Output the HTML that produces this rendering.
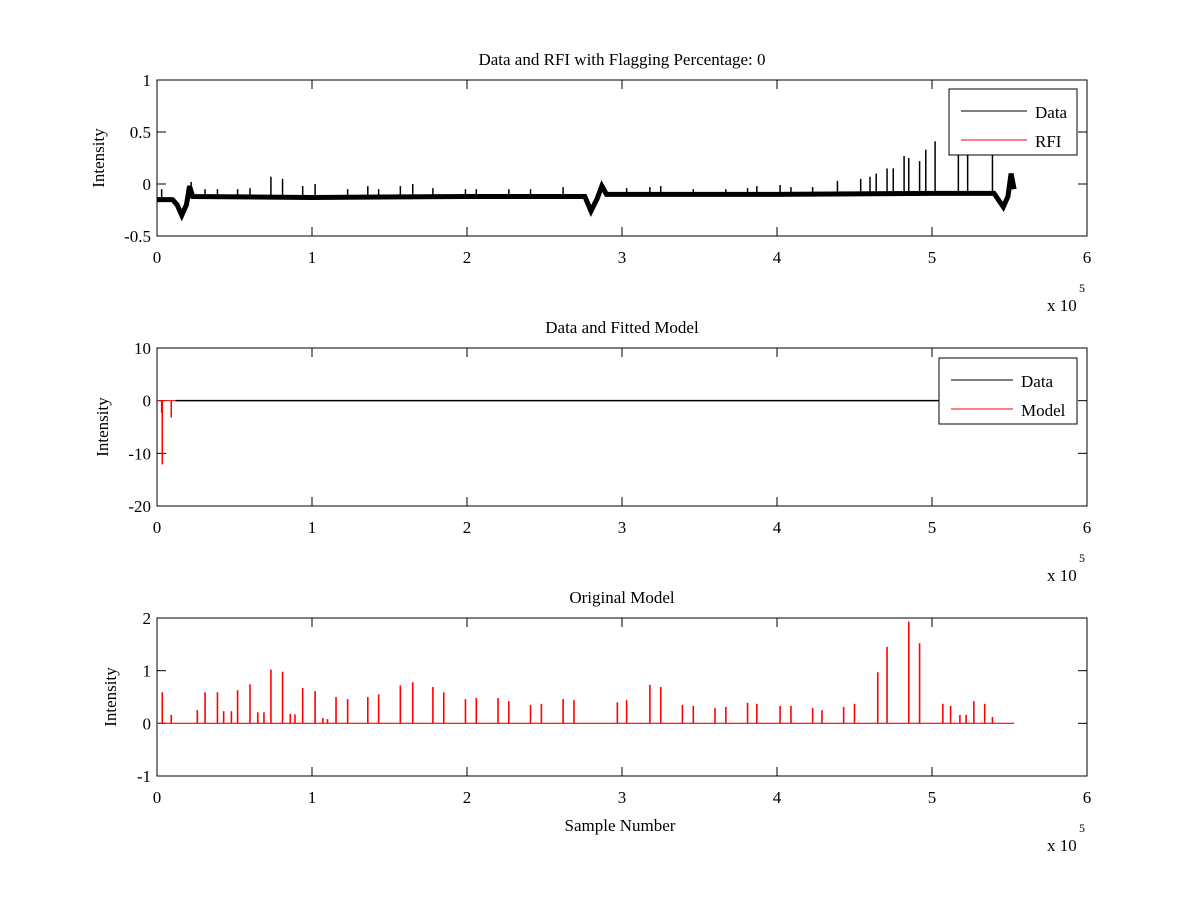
<!DOCTYPE html>
<html><head><meta charset="utf-8"><style>
body{margin:0;background:#fff;}
svg{display:block;font-family:"Liberation Serif",serif;}
</style></head><body>
<svg id="fig" width="1200" height="900" viewBox="0 0 1200 900">
<rect width="1200" height="900" fill="#fff"/>
</svg>
<script>
// ---- shared axis data ----
const xTicks = [0,1,2,3,4,5,6];
// ---- panel 1 data (x in 1e5 samples) ----
const p1BaseX = [0,0.1,0.13,0.16,0.19,0.21,0.23,1.0,2.0,2.76,2.8,2.84,2.87,2.9,4.0,5.0,5.4,5.46,5.49,5.51,5.53];
const p1BaseY = [-0.15,-0.15,-0.2,-0.3,-0.2,-0.02,-0.12,-0.13,-0.12,-0.12,-0.26,-0.14,-0.02,-0.1,-0.1,-0.09,-0.09,-0.22,-0.12,0.1,-0.05];
const p1SpikeX = [0.03,0.22,0.31,0.39,0.52,0.60,0.735,0.81,0.94,1.02,1.23,1.36,1.43,1.57,1.65,1.78,1.99,2.06,2.27,2.41,2.62,3.03,3.18,3.25,3.46,3.67,3.81,3.87,4.02,4.09,4.23,4.39,4.54,4.6,4.64,4.71,4.75,4.82,4.85,4.92,4.96,5.02,5.17,5.23,5.39];
const p1SpikeY = [-0.05,0.02,-0.05,-0.05,-0.05,-0.04,0.07,0.05,-0.02,0.0,-0.05,-0.02,-0.05,-0.02,0.0,-0.04,-0.05,-0.05,-0.05,-0.05,-0.03,-0.04,-0.03,-0.02,-0.05,-0.05,-0.04,-0.02,-0.01,-0.03,-0.03,0.03,0.05,0.07,0.1,0.15,0.15,0.27,0.25,0.22,0.33,0.41,0.6,0.6,0.6];
const p1Ticks = [-0.5,0,0.5,1];
// ---- panel 2 data ----
const p2SpikeX = [0.03,0.034,0.092];
const p2SpikeY = [-2.3,-12.1,-3.2];
const p2Ticks = [-20,-10,0,10];
// ---- panel 3 data ----
const p3SpikeX = [0.034,0.092,0.26,0.31,0.39,0.43,0.48,0.52,0.60,0.65,0.69,0.735,0.81,0.86,0.89,0.94,1.02,1.07,1.10,1.155,1.23,1.36,1.43,1.57,1.65,1.78,1.85,1.99,2.06,2.20,2.27,2.41,2.48,2.62,2.69,2.97,3.03,3.18,3.25,3.39,3.46,3.60,3.67,3.81,3.87,4.02,4.09,4.23,4.29,4.43,4.50,4.65,4.71,4.85,4.92,5.07,5.12,5.18,5.22,5.27,5.34,5.39];
const p3SpikeY = [0.59,0.16,0.25,0.59,0.59,0.23,0.23,0.63,0.74,0.21,0.21,1.02,0.98,0.18,0.17,0.67,0.61,0.10,0.08,0.50,0.46,0.50,0.55,0.72,0.78,0.69,0.59,0.46,0.48,0.48,0.42,0.35,0.37,0.46,0.44,0.40,0.44,0.73,0.69,0.35,0.33,0.29,0.31,0.39,0.37,0.33,0.33,0.29,0.25,0.31,0.37,0.97,1.45,1.93,1.52,0.37,0.33,0.16,0.16,0.42,0.37,0.12];
const p3Ticks = [-1,0,1,2];

const NS='http://www.w3.org/2000/svg';
const svg=document.getElementById('fig');
function mk(tag,attrs,parent){const e=document.createElementNS(NS,tag);for(const k in attrs)e.setAttribute(k,attrs[k]);(parent||svg).appendChild(e);return e;}
const X0=157,X1=1087;
function sx(v){return X0+(v-0)/(6-0)*(X1-X0);}

function panel(name,top,bot,ymin,ymax,yTicks,title,ylab,ylabX){
  const g=mk('g',{});
  
  
  const sy=v=>bot-(v-ymin)/(ymax-ymin)*(bot-top);
  const frame=mk('rect',{x:X0,y:top,width:X1-X0,height:bot-top,fill:'none',stroke:'#000','stroke-width':1},g);
  
  
  xTicks.forEach(t=>{
    const x=sx(t);
    mk('line',{x1:x,y1:bot,x2:x,y2:bot-9,stroke:'#000'},g);
    mk('line',{x1:x,y1:top,x2:x,y2:top+9,stroke:'#000'},g);
    const tl=mk('text',{x:x,y:bot+27,'font-size':17,'text-anchor':'middle'},g);
    tl.textContent=t;
    
    
  });
  yTicks.forEach(t=>{
    const y=sy(t);
    mk('line',{x1:X0,y1:y,x2:X0+9,y2:y,stroke:'#000'},g);
    mk('line',{x1:X1,y1:y,x2:X1-9,y2:y,stroke:'#000'},g);
    const tl=mk('text',{x:X0-6,y:y+6,'font-size':17,'text-anchor':'end'},g);
    tl.textContent=t;
    
    
  });
  const ti=mk('text',{x:622,y:top-15,'font-size':17,'text-anchor':'middle'},g);
  ti.textContent=title;
  
  
  const yl=mk('text',{x:ylabX,y:(top+bot)/2,'font-size':17,'text-anchor':'middle',transform:`rotate(-90 ${ylabX} ${(top+bot)/2})`},g);
  yl.textContent=ylab;
  
  
  const ex=mk('text',{x:1047,y:bot+75,'font-size':17},g);
  ex.textContent='x 10';
  
  
  const ep=mk('text',{x:1079,y:bot+56,'font-size':12},g);
  ep.textContent='5';
  
  
  return {g,sy};
}

function legend(parent,x,y,w,h,labels,lineX1,lineX2,textX){
  const lg=mk('g',{},parent);
  
  
  mk('rect',{x:x,y:y,width:w,height:h,fill:'#fff',stroke:'#000'},lg);
  labels.forEach((l,i)=>{
    const yy=y+22+i*29;
    const e=mk('g',{},lg);
    
    
    mk('line',{x1:lineX1,y1:yy,x2:lineX2,y2:yy,stroke:i?'#f00':'#000'},e);
    const t=mk('text',{x:textX,y:yy+7,'font-size':17},e);
    t.textContent=l;
  });
}

// Panel 1
{
  const p=panel('panel-data-rfi',80,236,-0.5,1,p1Ticks,'Data and RFI with Flagging Percentage: 0','Intensity',104);
  const pts=p1BaseX.map((v,i)=>sx(v)+','+p.sy(p1BaseY[i])).join(' ');
  const band=mk('polyline',{points:pts,fill:'none',stroke:'#000','stroke-width':5,'stroke-linejoin':'miter'},p.g);
  
  
  p1SpikeX.forEach((v,i)=>{
    let b=-0.1;
    for(let k=1;k<p1BaseX.length;k++){if(p1BaseX[k]>=v){const f=(v-p1BaseX[k-1])/(p1BaseX[k]-p1BaseX[k-1]);b=p1BaseY[k-1]+f*(p1BaseY[k]-p1BaseY[k-1]);break;}}
    const s=mk('line',{x1:sx(v),y1:p.sy(b),x2:sx(v),y2:p.sy(p1SpikeY[i]),stroke:'#000','stroke-width':1.5},p.g);
    
    
  });
  legend(p.g,949,89,128,66,['Data','RFI'],961,1027,1035);
}
// Panel 2
{
  const p=panel('panel-fitted-model',348,506,-20,10,p2Ticks,'Data and Fitted Model','Intensity',108);
  const m=mk('line',{x1:sx(0),y1:p.sy(0),x2:sx(5.53),y2:p.sy(0),stroke:'#f00','stroke-width':1},p.g);
  
  
  p2SpikeX.forEach((v,i)=>{
    const s=mk('line',{x1:sx(v),y1:p.sy(0),x2:sx(v),y2:p.sy(p2SpikeY[i]),stroke:'#f00','stroke-width':1.5},p.g);
    
    
  });
  const d=mk('line',{x1:sx(0.12),y1:p.sy(0),x2:sx(5.53),y2:p.sy(0),stroke:'#000','stroke-width':1.5},p.g);
  
  
  legend(p.g,939,358,138,66,['Data','Model'],951,1013,1021);
}
// Panel 3
{
  const p=panel('panel-original-model',618,776,-1,2,p3Ticks,'Original Model','Intensity',116);
  const b=mk('line',{x1:sx(0),y1:p.sy(0),x2:sx(5.53),y2:p.sy(0),stroke:'#f00','stroke-width':1.2},p.g);
  
  
  p3SpikeX.forEach((v,i)=>{
    const s=mk('line',{x1:sx(v),y1:p.sy(0),x2:sx(v),y2:p.sy(p3SpikeY[i]),stroke:'#f00','stroke-width':1.6},p.g);
    
    
  });
  const xl=mk('text',{x:620,y:831,'font-size':17,'text-anchor':'middle'},p.g);
  xl.textContent='Sample Number';
  
  
}
</script>
</body></html>
